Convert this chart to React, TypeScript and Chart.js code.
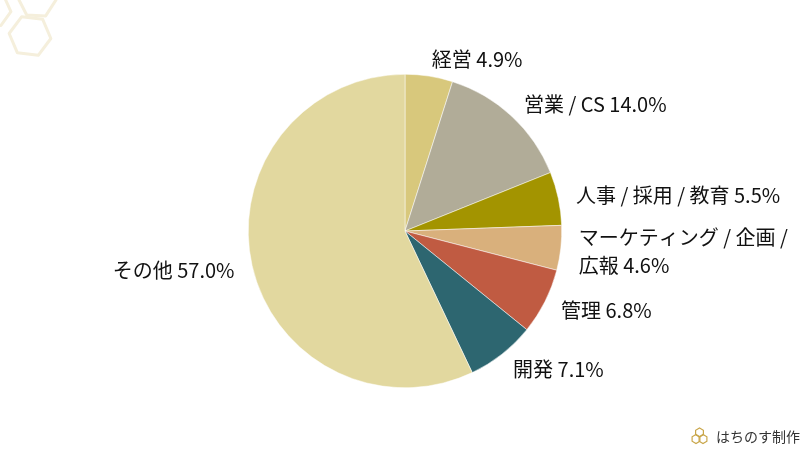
import React, { useEffect, useRef } from "react";
import { Chart, registerables } from "chart.js";

Chart.register(...registerables);

const categories = ["経営", "営業 / CS", "人事 / 採用 / 教育", "マーケティング / 企画 / 広報", "管理", "開発", "その他"];
const shares = [4.9, 14.0, 5.5, 4.6, 6.8, 7.1, 57.0];
const colors = ["#d8c87c", "#b1ac98", "#a39400", "#d9b07c", "#c05b42", "#2d6670", "#e2d89f"];
const creditText = "はちのす制作";

const FONT = '"Noto Sans CJK JP", "Noto Sans", sans-serif';

function hexPath(ctx: CanvasRenderingContext2D, cx: number, cy: number, r: number, rot: number) {
  ctx.beginPath();
  for (let i = 0; i < 6; i++) {
    const a = rot + (Math.PI / 3) * i;
    const x = cx + Math.cos(a) * r;
    const y = cy + Math.sin(a) * r;
    if (i === 0) ctx.moveTo(x, y);
    else ctx.lineTo(x, y);
  }
  ctx.closePath();
}

const labelPlugin = {
  id: "outerLabels",
  afterDatasetsDraw(chart: any) {
    const ctx: CanvasRenderingContext2D = chart.ctx;
    const meta = chart.getDatasetMeta(0);
    const W = chart.width;
    ctx.save();
    ctx.font = `20px ${FONT}`;
    ctx.fillStyle = "#111";
    ctx.textBaseline = "middle";
    const lineH = 28;
    meta.data.forEach((arc: any, i: number) => {
      const p = arc.getProps(["x", "y", "startAngle", "endAngle", "outerRadius"], true);
      const mid = (p.startAngle + p.endAngle) / 2;
      const R = p.outerRadius + 18;
      const px = p.x + Math.cos(mid) * R;
      const py = p.y + Math.sin(mid) * R;
      const right = Math.cos(mid) >= 0;
      const text = `${categories[i]} ${shares[i].toFixed(1)}%`;
      const maxW = right ? W - px - 20 : px - 20;
      const words = text.split(" ");
      const lines: string[] = [];
      let cur = "";
      for (const w of words) {
        const t = cur ? cur + " " + w : w;
        if (cur && ctx.measureText(t).width > maxW) {
          lines.push(cur);
          cur = w;
        } else cur = t;
      }
      if (cur) lines.push(cur);
      ctx.textAlign = right ? "left" : "right";
      const y0 = py - ((lines.length - 1) * lineH) / 2 + 1;
      lines.forEach((l, k) => ctx.fillText(l, px, y0 + k * lineH));
    });
    ctx.restore();
  },
};

const decorPlugin = {
  id: "decor",
  beforeDraw(chart: any) {
    const ctx: CanvasRenderingContext2D = chart.ctx;
    ctx.save();
    ctx.fillStyle = "#ffffff";
    ctx.fillRect(0, 0, chart.width, chart.height);
    ctx.strokeStyle = "#f5efdc";
    ctx.lineWidth = 3;
    ctx.lineJoin = "round";
    hexPath(ctx, 30, 36, 21, 0.12);
    ctx.stroke();
    hexPath(ctx, 37, -1, 19, 0.05);
    ctx.stroke();
    hexPath(ctx, -6, 10, 17, 0.1);
    ctx.stroke();
    ctx.restore();
  },
  afterDraw(chart: any) {
    const ctx: CanvasRenderingContext2D = chart.ctx;
    ctx.save();
    ctx.strokeStyle = "#c9a64a";
    ctx.lineWidth = 1.2;
    hexPath(ctx, 699.5, 432.5, 4.5, Math.PI / 6);
    ctx.stroke();
    hexPath(ctx, 696, 439, 4.5, Math.PI / 6);
    ctx.stroke();
    hexPath(ctx, 703, 439, 4.5, Math.PI / 6);
    ctx.stroke();
    ctx.font = `14px ${FONT}`;
    ctx.fillStyle = "#333";
    ctx.textBaseline = "middle";
    ctx.textAlign = "left";
    ctx.fillText(creditText, 716, 437);
    ctx.restore();
  },
};

export default function App() {
  const ref = useRef<HTMLCanvasElement>(null);
  useEffect(() => {
    document.body.style.margin = "0";
    const chart = new Chart(ref.current!, {
      type: "pie",
      data: {
        labels: categories,
        datasets: [
          {
            data: shares,
            backgroundColor: colors,
            borderColor: "#ffffff",
            borderWidth: 0.5,
          },
        ],
      },
      options: {
        responsive: false,
        animation: false,
        layout: { padding: { top: 74, bottom: 66, left: 200, right: 200 } },
        plugins: {
          legend: { display: false },
          tooltip: { enabled: false },
        },
      },
      plugins: [decorPlugin, labelPlugin],
    });
    return () => chart.destroy();
  }, []);
  return <canvas ref={ref} width={810} height={454} style={{ display: "block" }} />;
}
